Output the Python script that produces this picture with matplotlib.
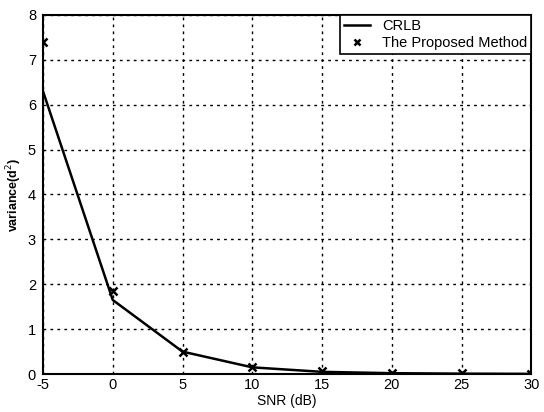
import matplotlib
matplotlib.use("Agg")
import matplotlib.pyplot as plt

snr = [-5, 0, 5, 10, 15, 20, 25, 30]
crlb = [6.30, 1.65, 0.50, 0.15, 0.05, 0.02, 0.01, 0.005]
proposed = [7.40, 1.85, 0.50, 0.15, 0.06, 0.03, 0.02, 0.01]
xticks = [-5, 0, 5, 10, 15, 20, 25, 30]
yticks = [0, 1, 2, 3, 4, 5, 6, 7, 8]

plt.rcParams['font.family'] = ['Liberation Sans', 'DejaVu Sans']
plt.rcParams['axes.unicode_minus'] = False
fig = plt.figure(figsize=(5.44, 4.12), dpi=100)
ax = fig.add_axes([0.079, 0.092, 0.898, 0.872])
ax.plot(snr, crlb, color='black', lw=1.8, label='CRLB')
ax.plot(snr, proposed, ls='none', marker='x', color='black', ms=6, mew=1.8, label='The Proposed Method')
ax.set_xlim(-5, 30)
ax.set_ylim(0, 8)
ax.set_xticks(xticks)
ax.set_yticks(yticks)
ax.grid(True, color='black', ls=(0, (2, 3)), lw=1)
ax.tick_params(axis='x', direction='in', length=0, labelsize=10.5, pad=3)
ax.tick_params(axis='y', direction='in', length=0, labelsize=10.5, pad=5)
for s in ax.spines.values():
    s.set_linewidth(1.5)
ax.set_xlabel('SNR (dB)', fontsize=10, labelpad=1)
ax.set_ylabel('variance(d$^2$)', fontsize=9, fontweight='bold', labelpad=3)
leg = ax.legend(loc='upper right', fontsize=10.5, fancybox=False, framealpha=1,
                edgecolor='black', borderaxespad=0.0, handlelength=1.8,
                borderpad=0.3, labelspacing=0.2, markerscale=0.8)
leg.get_frame().set_linewidth(1.2)
fig.savefig('out.png', dpi=100)
